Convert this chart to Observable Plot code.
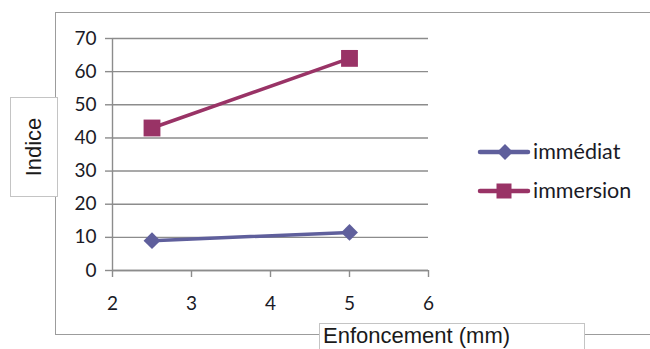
<!DOCTYPE html>
<html>
<head>
<meta charset="utf-8">
<script src="https://cdn.jsdelivr.net/npm/d3@7"></script>
<script src="https://cdn.jsdelivr.net/npm/@observablehq/plot@0.6"></script>
<style>
  body { margin: 0; background: #fff; }
  #wrap { position: relative; width: 650px; height: 349px; overflow: hidden; background: #fff; }
  #wrap svg.plot { position: absolute; left: 0; top: 0; z-index: 1; }
  .outer { position: absolute; left: 55px; top: 12px; width: 640px; height: 321px; border: 1.5px solid #9c9c9c; z-index: 0; }
  .box { position: absolute; background: #fff; border: 1.5px solid #c4c4c4; z-index: 2; box-sizing: border-box; font-family: "Liberation Sans", Arial, sans-serif; color: #1a1a1a; }
  #ybox { left: 10px; top: 97px; width: 48px; height: 100px; }
  #ybox span { position: absolute; left: 50%; top: 50%; transform: translate(-50%, -50%) rotate(-90deg); font-size: 22px; white-space: nowrap; }
  #xbox { left: 319px; top: 323px; width: 266px; height: 40px; }
  #xbox span { position: absolute; left: 3px; top: -1px; font-size: 22px; white-space: nowrap; }
  #legend { position: absolute; left: 470px; top: 130px; z-index: 2; }
</style>
</head>
<body>
<div id="wrap">
  <div class="outer"></div>
  <div class="box" id="ybox"><span id="ytitle"></span></div>
  <div class="box" id="xbox"><span id="xtitle"></span></div>
  <svg id="legend" width="180" height="90"></svg>
</div>
<script>
// ---- data ----
const xValues = [2.5, 5];
const immediat = [9, 11.5];
const immersion = [43, 64];
const seriesNames = ["immédiat", "immersion"];
const seriesColors = ["#5f5f9c", "#993366"];
const seriesSymbols = ["diamond2", "square"];
const xTicks = [2, 3, 4, 5, 6];
const yTicks = [0, 10, 20, 30, 40, 50, 60, 70];
const xTitle = "Enfoncement (mm)";
const yTitle = "Indice";

const data = xValues.flatMap((x, i) => [
  {x, y: immediat[i], s: seriesNames[0]},
  {x, y: immersion[i], s: seriesNames[1]}
]);

const axisGray = "#8c8c8c";
const chart = Plot.plot({
  width: 650, height: 349,
  marginLeft: 112, marginRight: 222, marginTop: 38, marginBottom: 79,
  x: {domain: [2, 6]},
  y: {domain: [0, 70]},
  color: {domain: seriesNames, range: seriesColors},
  style: {fontFamily: "Lato, 'Open Sans', sans-serif", fontSize: "19px", color: "#1a1a26", background: "transparent"},
  marks: [
    Plot.gridY(yTicks, {stroke: axisGray, strokeOpacity: 1, strokeWidth: 1.4}),
    Plot.axisY(yTicks, {tickSize: 7, tickPadding: 9, stroke: axisGray, strokeWidth: 1.4, label: null}),
    Plot.axisX(xTicks, {tickSize: 7, tickPadding: 19, stroke: axisGray, strokeWidth: 1.4, label: null}),
    Plot.ruleX([2], {stroke: axisGray, strokeWidth: 1.4}),
    Plot.ruleY([0], {stroke: axisGray, strokeWidth: 1.4}),
    Plot.line(data, {x: "x", y: "y", z: "s", stroke: "s", strokeWidth: 3.5}),
    Plot.dot(data.filter(d => d.s === seriesNames[0]), {x: "x", y: "y", symbol: seriesSymbols[0], r: 7.6, fill: "s", stroke: "none"}),
    Plot.dot(data.filter(d => d.s === seriesNames[1]), {x: "x", y: "y", symbol: seriesSymbols[1], r: 9.5, fill: "s", stroke: "none"})
  ]
});
chart.classList.add("plot");
document.getElementById("wrap").appendChild(chart);
document.getElementById("xtitle").textContent = xTitle;
document.getElementById("ytitle").textContent = yTitle;

// ---- legend ----
const lg = d3.select("#legend");
seriesNames.forEach((name, i) => {
  const g = lg.append("g").attr("transform", `translate(0, ${22 + i * 39})`);
  g.append("line").attr("x1", 10).attr("x2", 58).attr("y1", 0).attr("y2", 0)
    .attr("stroke", seriesColors[i]).attr("stroke-width", 4.5).attr("stroke-linecap", "round");
  const sym = i === 0
    ? d3.symbol(d3.symbolDiamond2, 160)()
    : d3.symbol(d3.symbolSquare, 225)();
  g.append("path").attr("d", sym).attr("transform", `translate(${i === 0 ? 35 : 34},0)`)
    .attr("fill", seriesColors[i]);
  g.append("text").attr("x", 63).attr("y", 7).text(name)
    .attr("font-family", "Lato, 'Open Sans', sans-serif").attr("font-size", 21.5).attr("fill", "#1a1a26");
});
</script>
</body>
</html>
